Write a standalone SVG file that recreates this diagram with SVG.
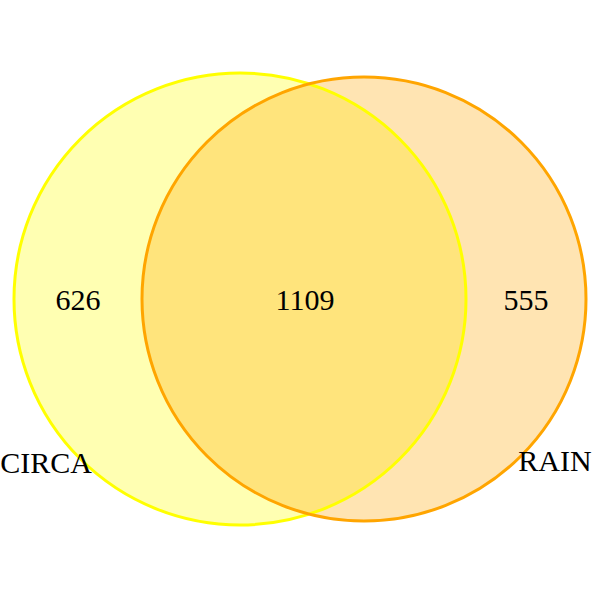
<svg xmlns="http://www.w3.org/2000/svg" width="600" height="600" viewBox="0 0 600 600">
<style>
text{font-family:"Liberation Serif","Times New Roman",serif;font-size:30px;fill:#000;text-anchor:middle}
.fill{stroke:none;fill-opacity:0.3}
.edge{fill:none;stroke-width:3}
</style>
<rect width="600" height="600" fill="#fff"/>
<g id="circa">
<circle class="fill" cx="240" cy="299" r="226" fill="#ffff00"/>
</g>
<g id="rain">
<circle class="fill" cx="364" cy="299" r="222" fill="#ffa500"/>
</g>
<g id="borders">
<circle class="edge" cx="240" cy="299" r="226" stroke="#ffff00"/>
<circle class="edge" cx="364" cy="299" r="222" stroke="#ffa500"/>
</g>
<g id="labels">
<text x="78" y="310">626</text>
<text x="305" y="310">1109</text>
<text x="526" y="310">555</text>
<text x="46" y="473">CIRCA</text>
<text x="555" y="471">RAIN</text>
</g>
</svg>
